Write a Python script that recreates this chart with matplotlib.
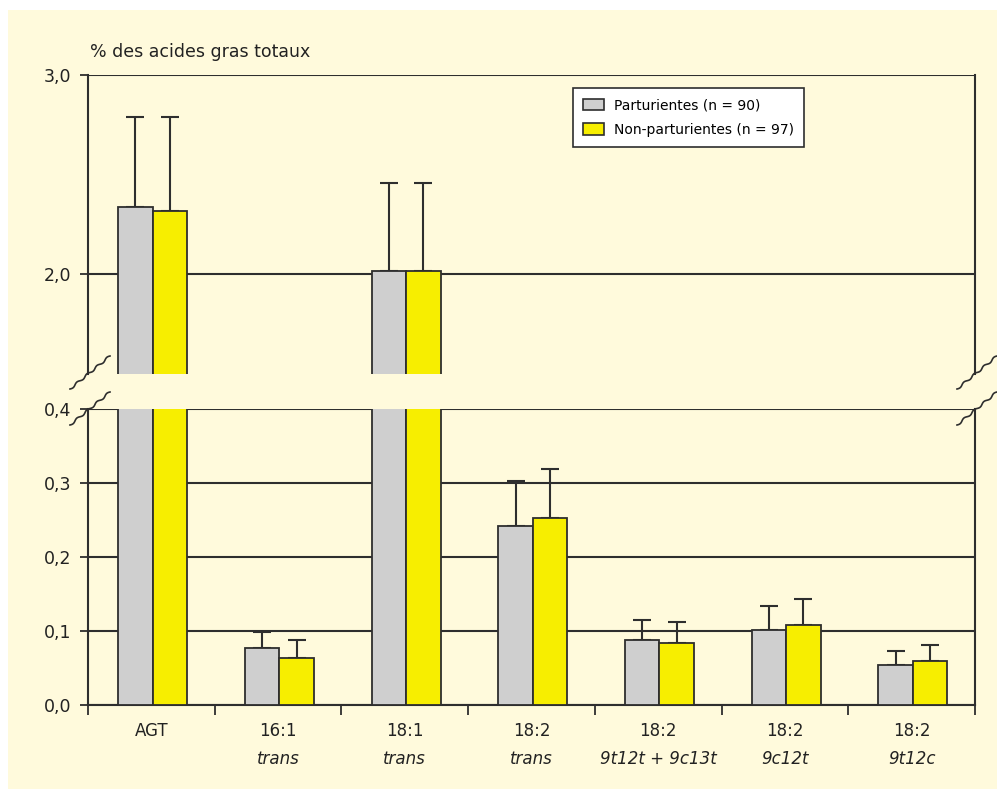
import numpy as np
import matplotlib
matplotlib.use("Agg")
import matplotlib.pyplot as plt
from matplotlib.patches import Rectangle, Patch
from matplotlib.lines import Line2D
from matplotlib.ticker import FuncFormatter

# data
categories = ["AGT", "16:1", "18:1", "18:2", "18:2", "18:2", "18:2"]
subtitles = ["", "trans", "trans", "trans", "9t12t + 9c13t", "9c12t", "9t12c"]
parturientes = [2.339, 0.077, 2.017, 0.241, 0.087, 0.101, 0.054]
parturientes_top = [2.79, 0.098, 2.46, 0.303, 0.114, 0.133, 0.073]
non_parturientes = [2.318, 0.063, 2.017, 0.252, 0.083, 0.108, 0.059]
non_parturientes_top = [2.79, 0.087, 2.46, 0.319, 0.111, 0.143, 0.081]
upper_ticks = [2.0, 3.0]
lower_ticks = [0.0, 0.1, 0.2, 0.3, 0.4]

W, H = 997, 789
CREAM = "#FFFADC"
GREY = "#CFCFCF"
YELLOW = "#F7EE00"
DARK = "#2E2E2E"

fig = plt.figure(figsize=(W / 100, H / 100), dpi=100)
fig.patch.set_facecolor("white")
fig.add_artist(Rectangle((8 / W, 0), 1, 1 - 10 / H, transform=fig.transFigure,
                         facecolor=CREAM, edgecolor="none", zorder=-10))


def px(x, y):
    return x / W, 1 - y / H


left, right = 88, 975
ax_up = fig.add_axes([left / W, 1 - 374 / H, (right - left) / W, (374 - 75) / H])
ax_lo = fig.add_axes([left / W, 1 - 704.5 / H, (right - left) / W, (704.5 - 409) / H])

x = np.arange(len(categories)) + 0.01
bw = 0.272
comma = FuncFormatter(lambda v, p: f"{v:.1f}".replace(".", ","))

for ax, lim, ticks in [(ax_up, (1.5, 3.0), upper_ticks), (ax_lo, (0.0, 0.4), lower_ticks)]:
    ax.set_facecolor(CREAM)
    p = np.array(parturientes)
    n = np.array(non_parturientes)
    ax.bar(x - bw / 2, p, bw, color=GREY, edgecolor=DARK, linewidth=1.3, zorder=3)
    ax.bar(x + bw / 2, n, bw, color=YELLOW, edgecolor=DARK, linewidth=1.3, zorder=3)
    ax.errorbar(x - bw / 2, p, yerr=[np.zeros_like(p), np.array(parturientes_top) - p],
                fmt="none", ecolor=DARK, elinewidth=1.5, capsize=6.5, capthick=1.5, zorder=2)
    ax.errorbar(x + bw / 2, n, yerr=[np.zeros_like(n), np.array(non_parturientes_top) - n],
                fmt="none", ecolor=DARK, elinewidth=1.5, capsize=6.5, capthick=1.5, zorder=2)
    ax.set_xlim(-0.5, len(categories) - 0.5)
    ax.set_ylim(*lim)
    ax.set_yticks(ticks)
    ax.yaxis.set_major_formatter(comma)
    for t in ticks:
        ax.axhline(t, color=DARK, linewidth=1.5, zorder=1)
    ax.tick_params(axis="y", direction="out", length=6, width=1.3, color=DARK,
                   labelsize=12.5, pad=6, labelcolor="#222222")
    for s in ["left", "right"]:
        ax.spines[s].set_color(DARK)
        ax.spines[s].set_linewidth(1.5)
    ax.spines["top"].set_visible(False)

ax_up.spines["bottom"].set_visible(False)
ax_up.set_xticks([])

ax_lo.spines["bottom"].set_color(DARK)
ax_lo.spines["bottom"].set_linewidth(1.5)
ax_lo.set_xticks(np.arange(-0.5, len(categories)))
ax_lo.set_xticklabels([])
ax_lo.tick_params(axis="x", direction="out", length=7, width=1.3, color=DARK)

for i in range(len(categories)):
    ax_lo.annotate(categories[i], (i, 0), xycoords=("data", "axes fraction"),
                   xytext=(0, -27), textcoords="offset pixels", ha="center", va="center",
                   fontsize=12, color="#222222")
    if subtitles[i]:
        ax_lo.annotate(subtitles[i], (i, 0), xycoords=("data", "axes fraction"),
                       xytext=(0, -54), textcoords="offset pixels", ha="center", va="center",
                       fontsize=12, style="italic", color="#222222")

fig.text(*px(90, 52), "% des acides gras totaux", fontsize=12.5, va="center", ha="left",
         color="#222222")

# axis break marks (wavy diagonals)
t = np.linspace(0, 1, 80)
for cx in (left, right):
    for cy in (373, 409):
        x0, y0, x1, y1 = cx - 18, cy + 16, cx + 22, cy - 17
        dx, dy = x1 - x0, y1 - y0
        L = np.hypot(dx, dy)
        nx, ny = -dy / L, dx / L
        wave = 1.0 * np.sin(2 * np.pi * 4 * t)
        xs = x0 + t * dx + nx * wave
        ys = y0 + t * dy + ny * wave
        fig.add_artist(Line2D(xs / W, 1 - ys / H, transform=fig.transFigure,
                              color=DARK, linewidth=1.2))

handles = [Patch(facecolor=GREY, edgecolor=DARK, linewidth=1.2, label="Parturientes (n = 90)"),
           Patch(facecolor=YELLOW, edgecolor=DARK, linewidth=1.2, label="Non-parturientes (n = 97)")]
leg = fig.legend(handles=handles, loc="upper left", bbox_to_anchor=px(573, 88),
                 bbox_transform=fig.transFigure, borderaxespad=0, fontsize=10,
                 frameon=True, fancybox=False, handlelength=1.5, handleheight=0.9,
                 labelspacing=0.75, borderpad=0.75, handletextpad=0.7)
leg.get_frame().set_edgecolor(DARK)
leg.get_frame().set_linewidth(1.2)
leg.get_frame().set_facecolor("white")
leg.get_frame().set_alpha(1)

fig.savefig("out.png", dpi=100, facecolor=fig.get_facecolor())
